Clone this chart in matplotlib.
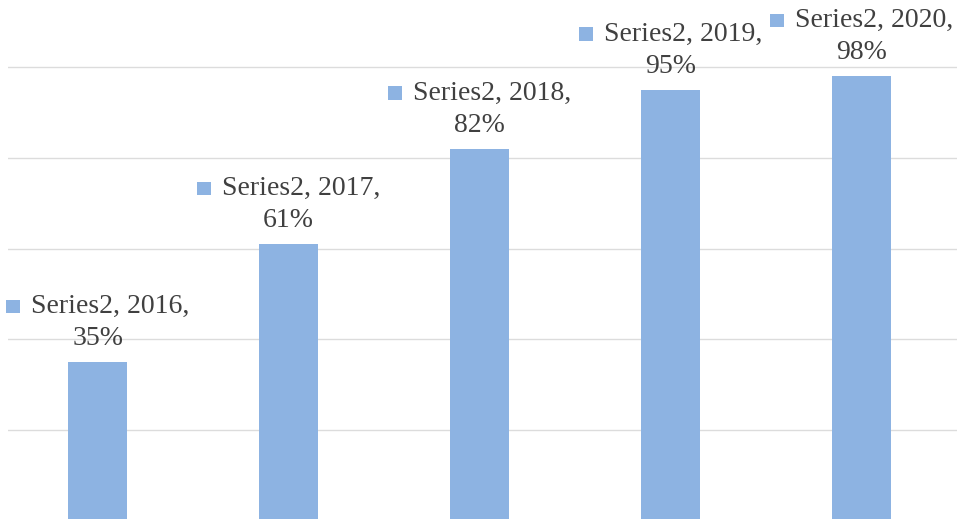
import matplotlib
matplotlib.use("Agg")
import matplotlib.pyplot as plt
from matplotlib.patches import Rectangle
from matplotlib.offsetbox import DrawingArea, TextArea, HPacker, VPacker, AnnotationBbox

# data
years = ["2016", "2017", "2018", "2019", "2020"]
values = [0.35, 0.61, 0.82, 0.95, 0.98]
series_name = "Series2"

bar_color = "#8db3e2"
text_color = "#404040"
grid_color = "#dcdcdc"

plt.rcParams["font.family"] = ["Liberation Serif", "DejaVu Serif"]

fig = plt.figure(figsize=(9.57, 5.19), dpi=100)
# axes: zero line just below the picture, 100% gridline at ~67 px from the top
ax = fig.add_axes([8 / 957, -2 / 519, 949 / 957, 1.1 * 454 / 519])

x = range(len(years))
ax.bar(x, values, width=0.31, color=bar_color, zorder=2)

ax.set_xlim(-0.47, len(years) - 0.5)
ax.set_ylim(0, 1.1)
ax.set_yticks([0.2, 0.4, 0.6, 0.8, 1.0])
ax.yaxis.grid(True, color=grid_color, linewidth=1.0, zorder=0)
ax.tick_params(left=False, bottom=False, labelleft=False, labelbottom=False)
for s in ax.spines.values():
    s.set_visible(False)

# data labels: "■ Series2, year," / "xx%"
props = dict(color=text_color, fontsize=20, family=["Liberation Serif", "DejaVu Serif"])
for i, (yr, v) in enumerate(zip(years, values)):
    da = DrawingArea(10, 10, 0, 0)
    da.add_artist(Rectangle((0, 0), 10, 10, facecolor=bar_color, edgecolor="none"))
    line1 = HPacker(children=[da, TextArea(f"{series_name}, {yr},", textprops=props)],
                    sep=8, align="center")
    line2 = TextArea(f"{round(v * 100)}%", textprops=props)
    box = VPacker(children=[line1, line2], sep=5, align="center")
    ab = AnnotationBbox(box, (i, v), xybox=(0, 8), boxcoords="offset points",
                        box_alignment=(0.5, 0), frameon=False, pad=0,
                        annotation_clip=False)
    ax.add_artist(ab)

fig.savefig("out.png", dpi=100)
